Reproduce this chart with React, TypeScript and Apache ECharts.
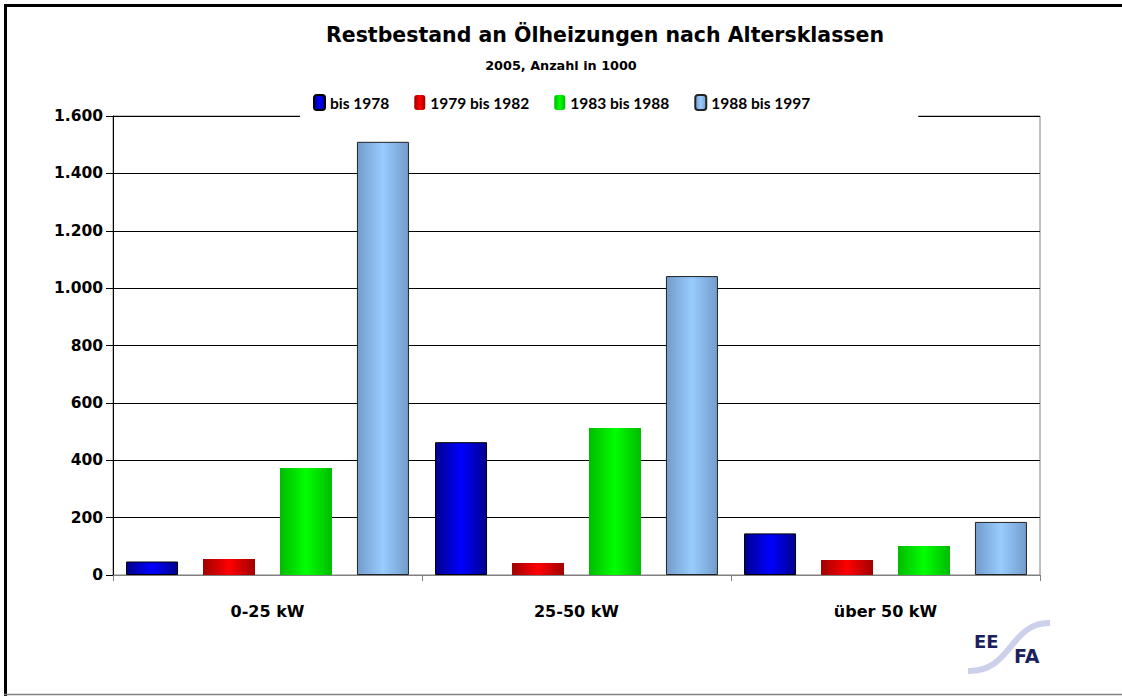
import React, { useEffect, useRef } from "react";
import * as echarts from "echarts";

const categories = ["0-25 kW", "25-50 kW", "über 50 kW"];
const seriesNames = ["bis 1978", "1979 bis 1982", "1983 bis 1988", "1988 bis 1997"];
const valuesBis1978 = [47, 463, 145];
const values1979to1982 = [56, 42, 52];
const values1983to1988 = [373, 512, 101];
const values1988to1997 = [1510, 1042, 185];
const yTicks = [0, 200, 400, 600, 800, 1000, 1200, 1400, 1600];

const FONT = "'DejaVu Sans', sans-serif";
const LEGEND_FONT = "Lato, 'Open Sans', sans-serif";

function grad(edge: string, mid: string) {
  return {
    type: "linear",
    x: 0,
    y: 0,
    x2: 1,
    y2: 0,
    colorStops: [
      { offset: 0, color: edge },
      { offset: 0.5, color: mid },
      { offset: 1, color: edge },
    ],
  };
}

export default function App() {
  const ref = useRef<HTMLDivElement>(null);
  useEffect(() => {
    document.body.style.margin = "0";
    if (!ref.current) return;
    const chart = echarts.init(ref.current, null, { renderer: "svg" });
    const styles = [
      { color: grad("#000090", "#0000FF"), borderColor: "#000000", borderWidth: 1 },
      { color: grad("#A00000", "#FF0000"), borderColor: "#A00000", borderWidth: 0 },
      { color: grad("#00BB00", "#00FF00"), borderColor: "#00BB00", borderWidth: 0 },
      { color: grad("#729CCB", "#99CCFF"), borderColor: "#222222", borderWidth: 1 },
    ];
    const data = [valuesBis1978, values1979to1982, values1983to1988, values1988to1997];
    chart.setOption({
      animation: false,
      backgroundColor: "#ffffff",
      textStyle: { fontFamily: FONT },
      title: [
        {
          text: "Restbestand an Ölheizungen nach Altersklassen",
          left: 600,
          textAlign: "center",
          top: 19,
          textStyle: { fontFamily: FONT, fontWeight: "bold", fontSize: 20.5, color: "#000" },
        },
        {
          text: "2005, Anzahl in 1000",
          left: 556,
          textAlign: "center",
          top: 54,
          textStyle: { fontFamily: FONT, fontWeight: "bold", fontSize: 12.8, color: "#000" },
        },
      ],
      legend: {
        data: seriesNames,
        top: 88,
        left: 300,
        itemWidth: 11,
        itemHeight: 15,
        itemGap: 25,
        backgroundColor: "#ffffff",
        padding: [6, 108, 8, 13],
        textStyle: { fontFamily: LEGEND_FONT, fontWeight: "bold", fontSize: 15.5, color: "#000" },
      },
      grid: {
        left: 113,
        right: 82,
        top: 116,
        bottom: 121,
        containLabel: false,
        outerBoundsMode: "none",
        show: true,
        borderColor: "#808080",
        borderWidth: 1,
      },
      xAxis: {
        type: "category",
        data: categories,
        axisLine: { lineStyle: { color: "#808080", width: 1 } },
        axisTick: { show: true, length: 6, lineStyle: { color: "#808080" } },
        axisLabel: {
          margin: 28,
          fontFamily: FONT,
          fontWeight: "bold",
          fontSize: 16,
          color: "#000",
        },
      },
      yAxis: {
        type: "value",
        min: 0,
        max: 1600,
        interval: 200,
        axisLine: { show: true, lineStyle: { color: "#000", width: 1 } },
        axisTick: { show: true, length: 7, lineStyle: { color: "#000" } },
        splitLine: { show: true, lineStyle: { color: "#000", width: 1 } },
        axisLabel: {
          margin: 10,
          fontFamily: FONT,
          fontWeight: "bold",
          fontSize: 15.5,
          color: "#000",
          formatter: (v: number) =>
            yTicks.includes(v) ? String(v).replace(/\B(?=(\d{3})+(?!\d))/g, ".") : "",
        },
      },
      series: seriesNames.map((name, i) => ({
        name,
        type: "bar",
        data: data[i],
        barWidth: 52,
        barGap: "48%",
        itemStyle: styles[i],
      })),
      graphic: [
        { type: "rect", shape: { x: 4, y: 4, width: 1118, height: 3 }, style: { fill: "#000" } },
        { type: "rect", shape: { x: 4, y: 4, width: 3, height: 692 }, style: { fill: "#000" } },
        {
          type: "line",
          shape: { x1: 4, y1: 694.5, x2: 1122, y2: 694.5 },
          style: { stroke: "#808080", lineWidth: 1.5 },
        },
        {
          type: "bezierCurve",
          shape: { x1: 968, y1: 671, cpx1: 1012, cpy1: 672, cpx2: 1010, cpy2: 622, x2: 1050, y2: 623 },
          style: { stroke: "#CDD0EA", lineWidth: 6, fill: null },
        },
        {
          type: "text",
          x: 974,
          y: 632,
          style: { text: "EE", font: "bold 18px 'DejaVu Sans', sans-serif", fill: "#1B1F5E" },
        },
        {
          type: "text",
          x: 1014,
          y: 646,
          style: { text: "FA", font: "bold 19px 'DejaVu Sans', sans-serif", fill: "#1B1F5E" },
        },
      ],
    });
    return () => chart.dispose();
  }, []);
  return (
    <div
      ref={ref}
      style={{ position: "absolute", left: 0, top: 0, width: 1122, height: 696 }}
    />
  );
}
